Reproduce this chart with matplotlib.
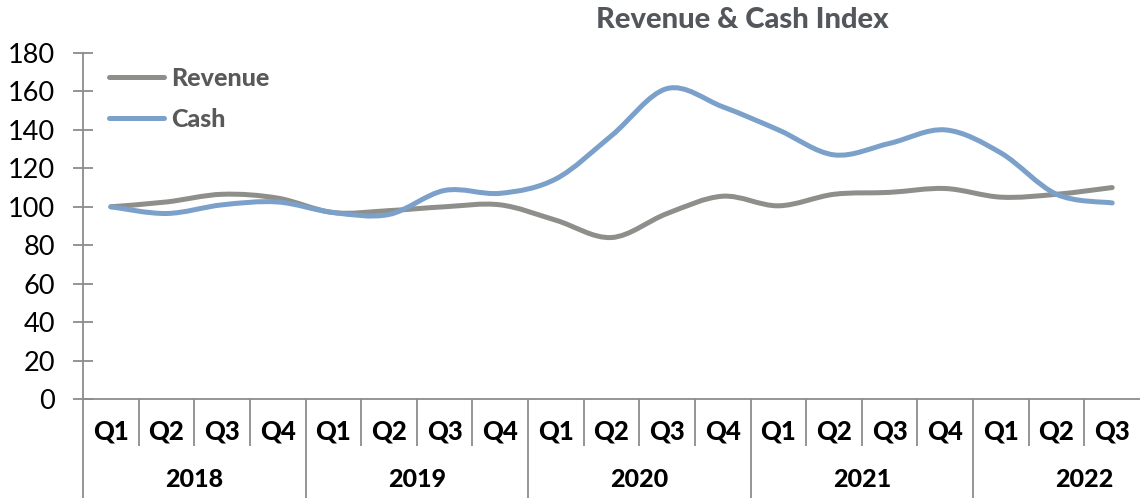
import matplotlib.pyplot as plt
import matplotlib.transforms as mtransforms
from matplotlib.path import Path
from matplotlib.patches import PathPatch
from matplotlib.lines import Line2D
import numpy as np

plt.rcParams['font.family'] = ['Lato', 'DejaVu Sans']

quarters = ['Q1', 'Q2', 'Q3', 'Q4'] * 4 + ['Q1', 'Q2', 'Q3']
years = ['2018', '2019', '2020', '2021', '2022']
revenue = [100, 102.5, 106.5, 104.5, 97, 98, 100, 101, 93, 84,
           96.5, 105.5, 100.5, 106.5, 107.5, 109.5, 105, 106.5, 110]
cash = [100, 96.5, 101, 102.5, 97, 96, 108.5, 107, 114.5, 137,
        161.5, 152, 140, 127, 133, 140, 128, 106.5, 102]

grey_line = '#8e8e8a'
blue_line = '#7ba0c9'
axis_grey = '#8c8c8c'
heavy = 'black'


def smooth_path(xs, ys):
    # excel-like smoothed line: catmull-rom segments as cubic beziers
    n = len(xs)
    verts = [(xs[0], ys[0])]
    codes = [Path.MOVETO]
    for i in range(n - 1):
        p0 = i - 1 if i > 0 else i
        p3 = i + 2 if i + 2 < n else i + 1
        c1 = (xs[i] + (xs[i + 1] - xs[p0]) / 6, ys[i] + (ys[i + 1] - ys[p0]) / 6)
        c2 = (xs[i + 1] - (xs[p3] - xs[i]) / 6, ys[i + 1] - (ys[p3] - ys[i]) / 6)
        verts += [c1, c2, (xs[i + 1], ys[i + 1])]
        codes += [Path.CURVE4] * 3
    return Path(verts, codes)


fig = plt.figure(figsize=(11.4, 4.98), dpi=100)
ax = fig.add_axes([83 / 1140, 1 - 399 / 498, 1 - 83 / 1140, 346 / 498])

x = np.arange(len(quarters))
for vals, col in [(revenue, grey_line), (cash, blue_line)]:
    ax.add_patch(PathPatch(smooth_path(x, vals), fill=False, edgecolor=col,
                           lw=3.6, capstyle='round', joinstyle='round'))

ax.set_xlim(-0.5, len(quarters) - 0.5)
ax.set_ylim(0, 180)
ax.set_yticks(np.arange(0, 181, 20))
ax.tick_params(axis='y', direction='inout', length=14, width=1.3,
               color=axis_grey, labelsize=19.5, pad=13)

# category table below the axis
year_edges = [-0.5, 3.5, 7.5, 11.5, 15.5]
q_edges = [e for e in np.arange(0.5, len(quarters) - 0.5) if e not in year_edges]
ax.set_xticks(year_edges)
ax.set_xticks(q_edges, minor=True)
ax.set_xticklabels([])
ax.tick_params(axis='x', which='major', direction='out', length=72, width=1.3, color=axis_grey)
ax.tick_params(axis='x', which='minor', direction='out', length=34, width=1.3, color=axis_grey)

trans = mtransforms.blended_transform_factory(ax.transData, ax.transAxes)
for i, q in enumerate(quarters):
    ax.text(i, -0.095, q, transform=trans, ha='center', va='center',
            fontsize=18.5, fontweight=heavy, color='black')
for j, yr in enumerate(years):
    ax.text(year_edges[j] + 2, -0.234, yr, transform=trans, ha='center', va='center',
            fontsize=18, fontweight=heavy, color='black')

for side in ['top', 'right']:
    ax.spines[side].set_visible(False)
for side in ['left', 'bottom']:
    ax.spines[side].set_color(axis_grey)
    ax.spines[side].set_linewidth(1.3)

handles = [Line2D([], [], color=grey_line, lw=3.6, solid_capstyle='round'),
           Line2D([], [], color=blue_line, lw=3.6, solid_capstyle='round')]
leg = ax.legend(handles, ['Revenue', 'Cash'], loc='upper left', bbox_to_anchor=(0.025, 0.96),
                frameon=False, borderpad=0, borderaxespad=0, handlelength=2.2,
                handletextpad=0.25, labelspacing=0.72,
                prop={'size': 18, 'weight': heavy})
for t in leg.get_texts():
    t.set_color('#595959')

fig.text(742 / 1140, 1 - 20 / 498, 'Revenue & Cash Index', ha='center', va='center',
         fontsize=21, fontweight=heavy, color='#53575c')

fig.savefig('out.png', dpi=100)
